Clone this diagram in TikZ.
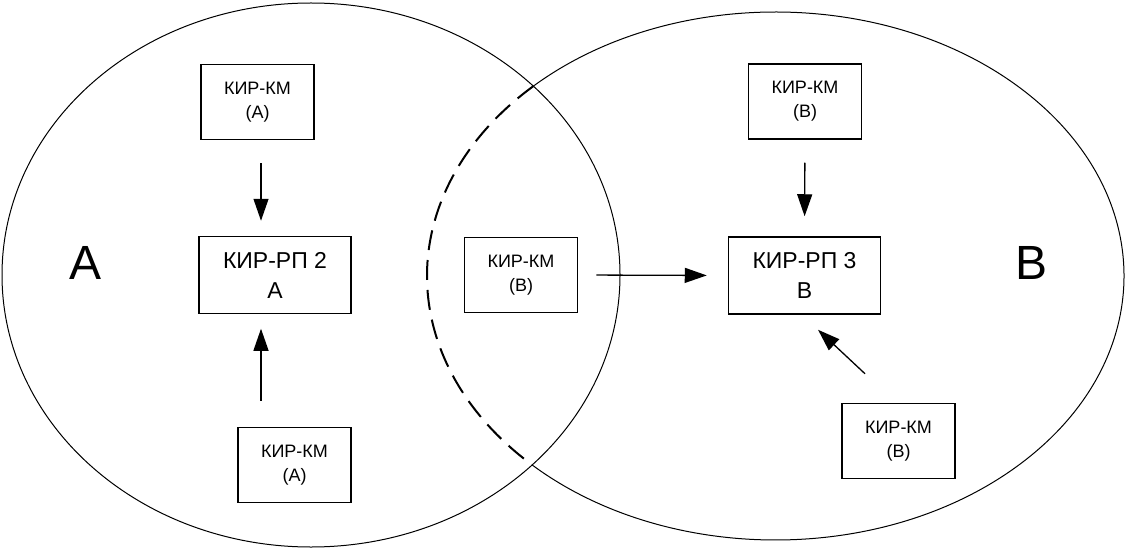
\documentclass[tikz,border=0pt]{standalone}
\usepackage[svgnames]{xcolor}
\usepackage{fontspec}
\setmainfont{Liberation Sans}
\usepackage{tikz}
\usetikzlibrary{arrows.meta}
\usetikzlibrary{calc}
\tikzset{conn/.style={-{Triangle[length=22pt,width=15pt]},line width=1.3pt,draw=Black}}
\tikzset{zone/.style={draw=Black,line width=1pt}}

\begin{document}
\begin{tikzpicture}[x=1pt,y=-1pt]
		\tikzstyle{KM}=[rectangle,draw=Black,line width=1.5pt,minimum width=113pt,minimum height=75pt,inner sep=0pt,align=center,font=\fontsize{18}{24}\selectfont]
		\tikzstyle{RP}=[rectangle,draw=Black,line width=1.5pt,minimum width=152pt,minimum height=77pt,inner sep=0pt,align=center,font=\fontsize{23}{30}\selectfont]
		\tikzstyle{Zone}=[font=\fontsize{48}{48}\selectfont]

		\useasboundingbox (0,0) rectangle (1126,548);

		% zones A and B
		\coordinate (Ac) at (311,275);
		\coordinate (Bc) at (775.5,276);
		\draw [zone] (Ac) ellipse [x radius=309pt, y radius=272pt];
		\draw [zone] (Bc) ++(134:348.5pt and 264pt) arc [start angle=134, end angle=-134.3, x radius=348.5pt, y radius=264pt];
		\draw [zone,line width=2pt,dash pattern=on 20pt off 10pt] (Bc) ++(134:348.5pt and 264pt) arc [start angle=134, end angle=225.7, x radius=348.5pt, y radius=264pt];

		\node [KM] (kmA1) at (257.5,102) {КИР-КМ\\(А)};
		\node [RP] (rpA) at (275,275) {КИР-РП 2\\А};
		\node [KM] (kmA2) at (294.5,465) {КИР-КМ\\(А)};
		\node [KM] (kmB1) at (521,275) {КИР-КМ\\(В)};
		\node [RP] (rpB) at (804.5,275.5) {КИР-РП 3\\В};
		\node [KM] (kmB2) at (805,101.5) {КИР-КМ\\(В)};
		\node [KM] (kmB3) at (898.5,441) {КИР-КМ\\(В)};
		\node [Zone] (lblA) at (85.5,262.5) {А};
		\node [Zone] (lblB) at (1031.5,262.5) {В};

		\draw [conn] ([xshift=3.5pt,yshift=-23pt]kmA1.south) -- ([xshift=-14pt,yshift=15pt]rpA.north);
		\draw [conn] ([xshift=-33.5pt,yshift=26pt]kmA2.north) -- ([xshift=-14pt,yshift=-14.5pt]rpA.south);
		\draw [conn,shorten <=18pt,shorten >=21pt] (kmB1.east) -- (rpB.west);
		\draw [conn,shorten <=23pt,shorten >=20pt] (kmB2.south) -- (rpB.north);
		\draw [conn] ([xshift=-33.5pt,yshift=29pt]kmB3.north) -- ([xshift=13.5pt,yshift=-15pt]rpB.south);
\end{tikzpicture}
\end{document}
